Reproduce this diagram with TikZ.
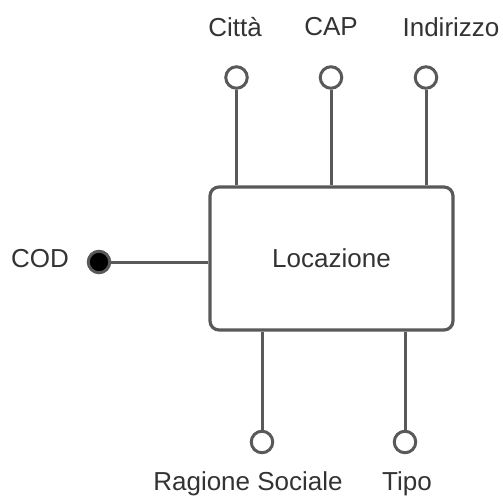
\documentclass[tikz,border=0pt]{standalone}
\usepackage{fontspec}
\setmainfont{Liberation Sans}
\definecolor{edgegray}{HTML}{595959}
\definecolor{textgray}{HTML}{333333}
\begin{document}
\begin{tikzpicture}[x=1pt,y=-1pt,
  entity/.style={draw=edgegray, line width=3.2pt, rounded corners=9pt, fill=white,
    minimum width=243pt, minimum height=143pt, inner sep=0pt,
    font=\fontsize{26}{29}\selectfont, text=textgray},
  attr/.style={circle, draw=edgegray, line width=3pt, fill=white,
    minimum size=21.5pt, inner sep=0pt},
  keyattr/.style={attr, fill=black},
  lbl/.style={font=\fontsize{26}{29}\selectfont, text=textgray, inner sep=0pt},
  link/.style={draw=edgegray, line width=3pt}]
  \useasboundingbox (0,0) rectangle (503,500);

  % entity
  \node[entity] (loc) at (331.5,258.5) {Locazione};

  % attributes above
  \node[attr] (citta) at (236.5,77.5) {};
  \node[attr] (cap) at (331,77.5) {};
  \node[attr] (ind) at (426,77.5) {};
  \node[lbl] (lcitta) at (235,27) {Città};
  \node[lbl] (lcap) at (331,27) {CAP};
  \node[lbl] (lind) at (451,27) {Indirizzo};

  % attributes below
  \node[attr] (rag) at (262,442) {};
  \node[attr] (tipo) at (405,442) {};
  \node[lbl] (lrag) at (248,484) {Ragione Sociale};
  \node[lbl] (ltipo) at (407,484) {Tipo};

  % key attribute
  \node[keyattr] (cod) at (99,262) {};
  \node[lbl] (lcod) at (40,259) {COD};

  % links
  \draw[link] (citta.south) -- (citta.south |- loc.north);
  \draw[link] (cap.south) -- (cap.south |- loc.north);
  \draw[link] (ind.south) -- (ind.south |- loc.north);
  \draw[link] (rag.north) -- (rag.north |- loc.south);
  \draw[link] (tipo.north) -- (tipo.north |- loc.south);
  \draw[link] (cod.east) -- (cod.east -| loc.west);
\end{tikzpicture}
\end{document}
